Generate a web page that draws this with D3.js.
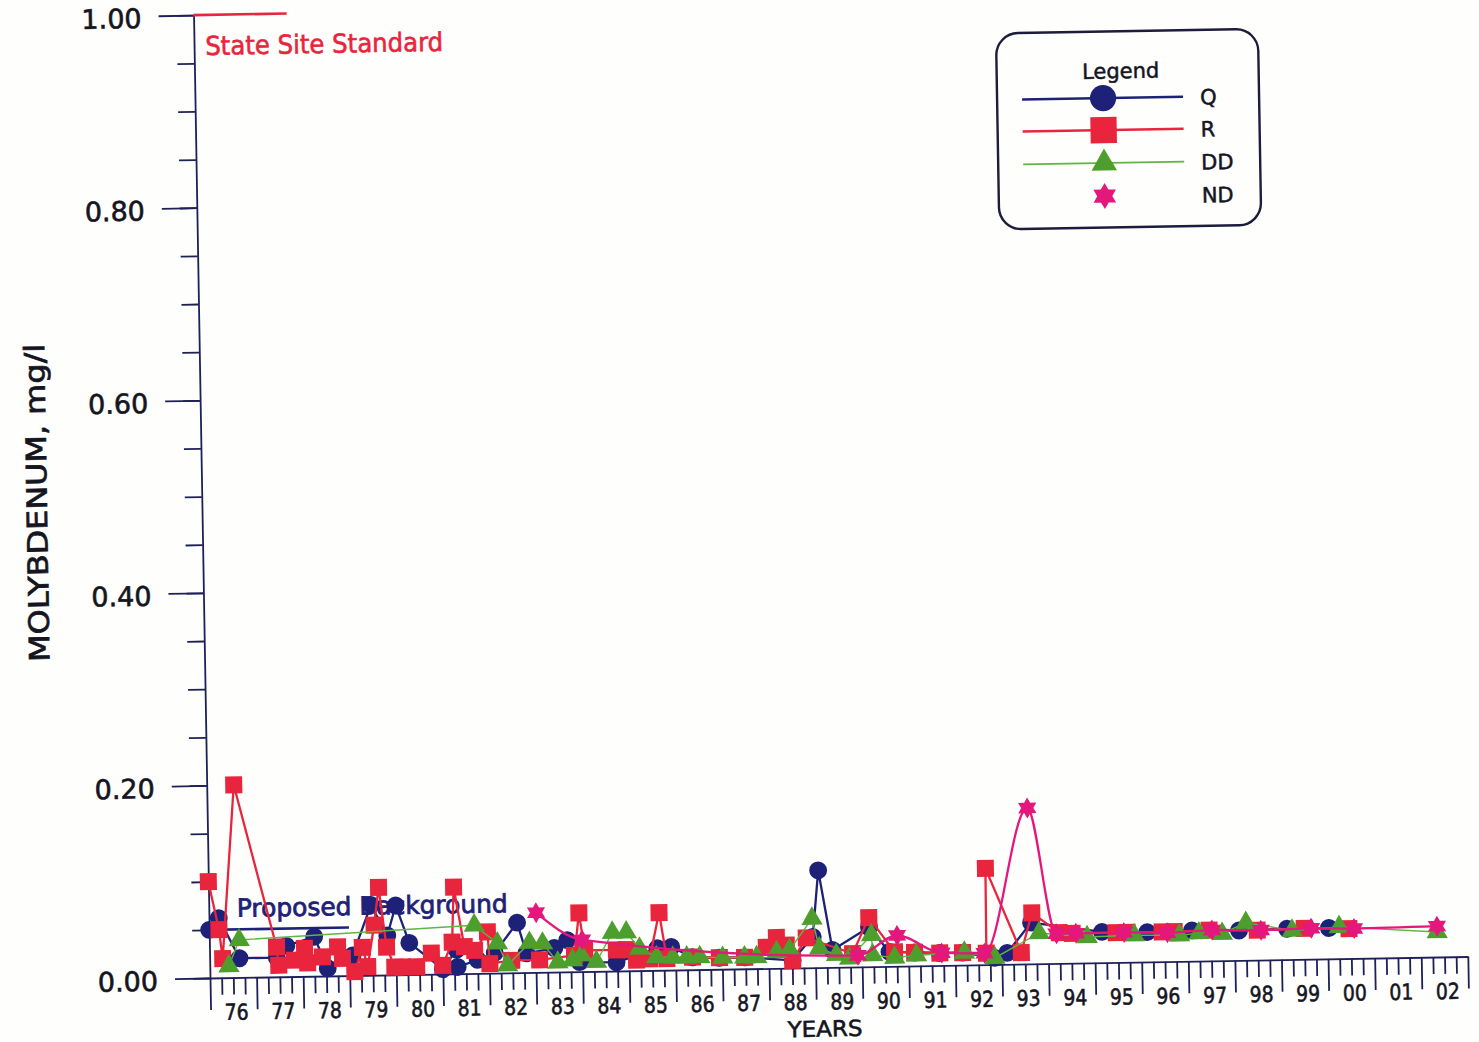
<!DOCTYPE html>
<html>
<head>
<meta charset="utf-8">
<script src="https://cdn.jsdelivr.net/npm/d3@7"></script>
<style>
  html, body { margin: 0; padding: 0; background: #fefefc; }
  svg { display: block; }
</style>
</head>
<body>
<script>
// ---- data: [decimal year, mg/l] ----
const yearLabels = ["76","77","78","79","80","81","82","83","84","85","86","87","88","89",
                    "90","91","92","93","94","95","96","97","98","99","00","01","02"];
const yTickValues = [0, 0.2, 0.4, 0.6, 0.8, 1.0];

const qData = [
  [1976.00,0.050],[1976.21,0.062],[1976.64,0.020],[1977.44,0.020],[1977.65,0.032],[1978.25,0.041],
  [1978.53,0.008],[1979.07,0.021],[1979.48,0.073],[1979.82,0.041],[1980.01,0.072],[1980.29,0.033],
  [1981.00,0.005],[1981.30,0.025],[1981.32,0.007],[1981.75,0.014],[1982.12,0.021],[1982.61,0.052],
  [1982.80,0.020],[1983.40,0.025],[1983.68,0.033],[1983.94,0.010],[1984.73,0.009],[1985.61,0.023],
  [1985.91,0.024],[1986.36,0.013],[1986.94,0.012],[1987.48,0.012],[1988.51,0.008],[1988.95,0.032],
  [1989.09,0.101],[1989.37,0.018],[1990.16,0.041],[1990.59,0.015],[1991.13,0.014],[1991.67,0.013],
  [1992.16,0.013],[1992.85,0.007],[1993.12,0.012],[1993.64,0.043],[1995.16,0.032],[1996.13,0.031],
  [1997.09,0.032],[1998.10,0.031],[1999.13,0.032],[2000.03,0.032]
];

const rData = [
  [1976.00,0.100],[1976.21,0.050],[1976.28,0.020],[1976.58,0.200],[1977.44,0.031],[1977.48,0.012],
  [1977.82,0.017],[1978.04,0.029],[1978.10,0.014],[1978.42,0.020],[1978.75,0.030],[1978.85,0.018],
  [1979.11,0.004],[1979.28,0.029],[1979.39,0.009],[1979.54,0.052],[1979.65,0.091],[1979.80,0.029],
  [1979.97,0.008],[1980.14,0.008],[1980.44,0.008],[1980.76,0.022],[1981.00,0.009],[1981.21,0.033],
  [1981.26,0.090],[1981.47,0.028],[1981.69,0.024],[1981.97,0.043],[1982.01,0.010],[1982.48,0.013],
  [1983.08,0.013],[1983.83,0.017],[1983.94,0.061],[1984.05,0.022],[1984.73,0.022],[1984.95,0.022],
  [1985.16,0.011],[1985.44,0.012],[1985.66,0.060],[1985.81,0.012],[1986.36,0.013],[1986.94,0.012],
  [1987.48,0.012],[1987.95,0.022],[1988.17,0.032],[1988.38,0.024],[1988.51,0.008],[1988.81,0.031],
  [1989.80,0.014],[1990.16,0.051],[1990.70,0.015],[1991.13,0.014],[1991.67,0.013],[1992.16,0.013],
  [1992.67,0.012],[1992.68,0.100],[1993.42,0.012],[1993.66,0.053],[1994.24,0.032],[1994.52,0.031],
  [1995.46,0.031],[1995.70,0.031],[1996.45,0.031],[1996.71,0.031],[1997.46,0.032],[1998.49,0.031],
  [1999.50,0.032],[2000.46,0.031]
];

const ddData = [
  [1976.41,0.012],[1976.64,0.039],[1981.69,0.050],[1982.18,0.031],[1982.39,0.008],[1982.87,0.031],
  [1983.15,0.030],[1983.47,0.010],[1983.79,0.012],[1983.98,0.017],[1984.30,0.010],[1984.65,0.040],
  [1984.95,0.040],[1985.23,0.023],[1985.59,0.014],[1985.94,0.013],[1986.24,0.013],[1986.52,0.013],
  [1987.01,0.012],[1987.48,0.012],[1987.74,0.012],[1988.17,0.017],[1988.45,0.019],[1988.94,0.051],
  [1989.09,0.020],[1989.45,0.013],[1989.73,0.009],[1990.21,0.033],[1990.23,0.012],[1990.70,0.009],
  [1991.17,0.011],[1992.20,0.013],[1992.85,0.007],[1993.81,0.032],[1994.84,0.027],[1995.85,0.028],
  [1996.82,0.027],[1997.24,0.029],[1997.74,0.028],[1998.25,0.039],[1999.24,0.030],[2000.25,0.033],
  [2002.35,0.026]
];

const ndData = [
  [1983.02,0.062],[1984.00,0.033],[1989.91,0.012],[1990.76,0.032],[1991.71,0.013],[1992.63,0.012],
  [1993.60,0.162],[1994.18,0.031],[1994.60,0.031],[1995.63,0.031],[1996.56,0.030],[1997.52,0.032],
  [1998.57,0.031],[1999.65,0.032],[2000.57,0.031],[2002.35,0.032]
];

const stateStandard = { value: 1.0, from: 1976, to: 1978, label: "State Site Standard" };
const background = { value: 0.05, from: 1976, to: 1979, label: "Proposed Background" };

// ---- layout ----
const W = 1479, H = 1042;
const FONT = "DejaVu Sans, Verdana, sans-serif";
const NAVY = "#1d2278", RED = "#e8253c", GREEN = "#4e9e2e", GREEN_LINE = "#62b443",
      PINK = "#e3177c", AXIS = "#1f2058", INK = "#15151f";

const x = d3.scaleLinear().domain([1976, 2003]).range([210, 1468]);
const y = d3.scaleLinear().domain([0, 1]).range([978, 15]);
const x0 = x(1976), y0 = y(0);

const svg = d3.select("body").append("svg").attr("width", W).attr("height", H);
svg.append("rect").attr("width", W).attr("height", H).attr("fill", "#fefefc");

// whole sheet sits slightly tilted
const g = svg.append("g").attr("transform", `rotate(-0.98,${x0},${y0})`)
  .attr("font-family", FONT);

// heavier lettering: stroke each glyph in its own colour
const heavy = (sel, w) => sel.attr("stroke", function () { return d3.select(this).attr("fill"); })
  .attr("stroke-width", w).attr("paint-order", "stroke");

// ---- y axis ----
const yMinor = g.append("g").attr("transform", `translate(${x0},0)`)
  .call(d3.axisLeft(y).tickValues(d3.range(0, 1.0001, 0.05)).tickSize(17).tickFormat(""));
yMinor.select(".domain").remove();
const yMajor = g.append("g").attr("transform", `translate(${x0},0)`)
  .call(d3.axisLeft(y).tickValues(yTickValues).tickSize(35).tickSizeOuter(0)
        .tickPadding(17).tickFormat(d3.format(".2f")));
yMajor.selectAll("text").attr("font-family", FONT).attr("font-size", 27)
  .attr("fill", INK).attr("dy", "0.42em").call(heavy, 0.6);
[yMinor, yMajor].forEach(s => s.selectAll("line,path").attr("stroke", AXIS).attr("stroke-width", 1.8));

// ---- x axis ----
const quarterTicks = d3.range(1976, 2003.001, 0.25).filter(v => v % 1 !== 0);
const yearTicks = d3.range(1976, 2004, 1);
const xMinor = g.append("g").attr("transform", `translate(0,${y0})`)
  .call(d3.axisBottom(x).tickValues(quarterTicks).tickSize(17).tickFormat(""));
xMinor.select(".domain").remove();
const xMajor = g.append("g").attr("transform", `translate(0,${y0})`)
  .call(d3.axisBottom(x).tickValues(yearTicks).tickSize(32).tickSizeOuter(0).tickFormat(""));
const xLabels = g.append("g").attr("transform", `translate(0,${y0})`)
  .call(d3.axisBottom(x).tickValues(yearLabels.map((_, i) => 1976 + i + 0.55))
        .tickSize(0).tickPadding(26.5).tickFormat((d, i) => yearLabels[i]));
xLabels.select(".domain").remove();
xLabels.selectAll("text").attr("font-family", FONT).attr("font-size", 22).attr("fill", INK)
  .attr("textLength", 24).attr("lengthAdjust", "spacingAndGlyphs").call(heavy, 0.6);
[xMinor, xMajor].forEach(s => s.selectAll("line,path").attr("stroke", AXIS).attr("stroke-width", 1.8));

// axis titles
g.append("text").attr("x", 55).attr("y", 500)
  .attr("transform", "rotate(-90,55,500)").attr("text-anchor", "middle")
  .attr("font-size", 28).attr("fill", INK)
  .attr("textLength", 318).attr("lengthAdjust", "spacingAndGlyphs")
  .text("MOLYBDENUM, mg/l").call(heavy, 0.7);
g.append("text").attr("x", x(1989.18)).attr("y", y0 + 69).attr("text-anchor", "middle")
  .attr("font-size", 22).attr("fill", INK)
  .attr("textLength", 75).attr("lengthAdjust", "spacingAndGlyphs")
  .text("YEARS").call(heavy, 0.6);

// ---- reference lines ----
g.append("line").attr("x1", x(stateStandard.from)).attr("x2", x(stateStandard.to))
  .attr("y1", y(stateStandard.value)).attr("y2", y(stateStandard.value))
  .attr("stroke", RED).attr("stroke-width", 2.6);
g.append("text").attr("x", x(1976.24)).attr("y", y(stateStandard.value) + 40)
  .attr("font-size", 26).attr("fill", RED)
  .attr("textLength", 238).attr("lengthAdjust", "spacingAndGlyphs")
  .text(stateStandard.label).call(heavy, 0.6);

g.append("line").attr("x1", x(background.from)).attr("x2", x(background.to))
  .attr("y1", y(background.value)).attr("y2", y(background.value))
  .attr("stroke", NAVY).attr("stroke-width", 2.6);
g.append("text").attr("x", x(1976.6)).attr("y", y(background.value) - 12.5)
  .attr("font-size", 25).attr("fill", NAVY)
  .attr("textLength", 271).attr("lengthAdjust", "spacingAndGlyphs")
  .text(background.label).call(heavy, 0.8);

// ---- marker shapes ----
const hexagram = r => d3.lineRadial()
  .angle((d, i) => i * Math.PI / 6)
  .radius((d, i) => (i % 2 ? r * 0.58 : r))
  .curve(d3.curveLinearClosed)(d3.range(12));

const series = [
  { name: "Q",  data: qData,  color: NAVY, line: NAVY,       width: 2.3, curve: d3.curveLinear,
    shape: s => d3.symbol(d3.symbolCircle, s ? 540 : 250)() },
  { name: "R",  data: rData,  color: RED,  line: RED,        width: 2.3, curve: d3.curveLinear,
    shape: s => d3.symbol(d3.symbolSquare, s ? 690 : 289)() },
  { name: "DD", data: ddData, color: GREEN, line: GREEN_LINE, width: 1.4, curve: d3.curveLinear,
    shape: s => d3.symbol(d3.symbolTriangle, s ? 280 : 195)() },
  { name: "ND", data: ndData, color: PINK, line: PINK,       width: 2.3, curve: d3.curveMonotoneX,
    shape: s => hexagram(s ? 13 : 10.5) }
];

series.forEach(sr => {
  const line = d3.line().x(d => x(d[0])).y(d => y(d[1])).curve(sr.curve);
  g.append("path").datum(sr.data).attr("d", line)
    .attr("fill", "none").attr("stroke", sr.line).attr("stroke-width", sr.width)
    .attr("stroke-linejoin", "round");
  g.append("g").selectAll("path").data(sr.data).join("path")
    .attr("transform", d => `translate(${x(d[0])},${y(d[1])})`)
    .attr("d", sr.shape(false)).attr("fill", sr.color);
});

// ---- legend ----
const lg = g.append("g");
lg.append("rect").attr("x", 1012).attr("y", 47).attr("width", 262).attr("height", 196)
  .attr("rx", 22).attr("fill", "#fefefc").attr("stroke", "#1c1c3c").attr("stroke-width", 2.4);
lg.append("text").attr("x", 1136).attr("y", 94).attr("text-anchor", "middle")
  .attr("font-size", 21).attr("fill", INK).text("Legend").call(heavy, 0.5);
const rowY = [113.5, 145.5, 178.5, 211.5];
series.forEach((sr, i) => {
  const ry = rowY[i];
  if (sr.name !== "ND") {
    lg.append("line").attr("x1", 1037).attr("x2", 1198).attr("y1", ry).attr("y2", ry)
      .attr("stroke", sr.line).attr("stroke-width", sr.width + 0.3);
  }
  lg.append("path").attr("transform", `translate(1118,${ry})`)
    .attr("d", sr.shape(true)).attr("fill", sr.color);
  lg.append("text").attr("x", 1215).attr("y", ry + 8).attr("font-size", 21)
    .attr("fill", INK).text(sr.name).call(heavy, 0.5);
});
</script>
</body>
</html>
